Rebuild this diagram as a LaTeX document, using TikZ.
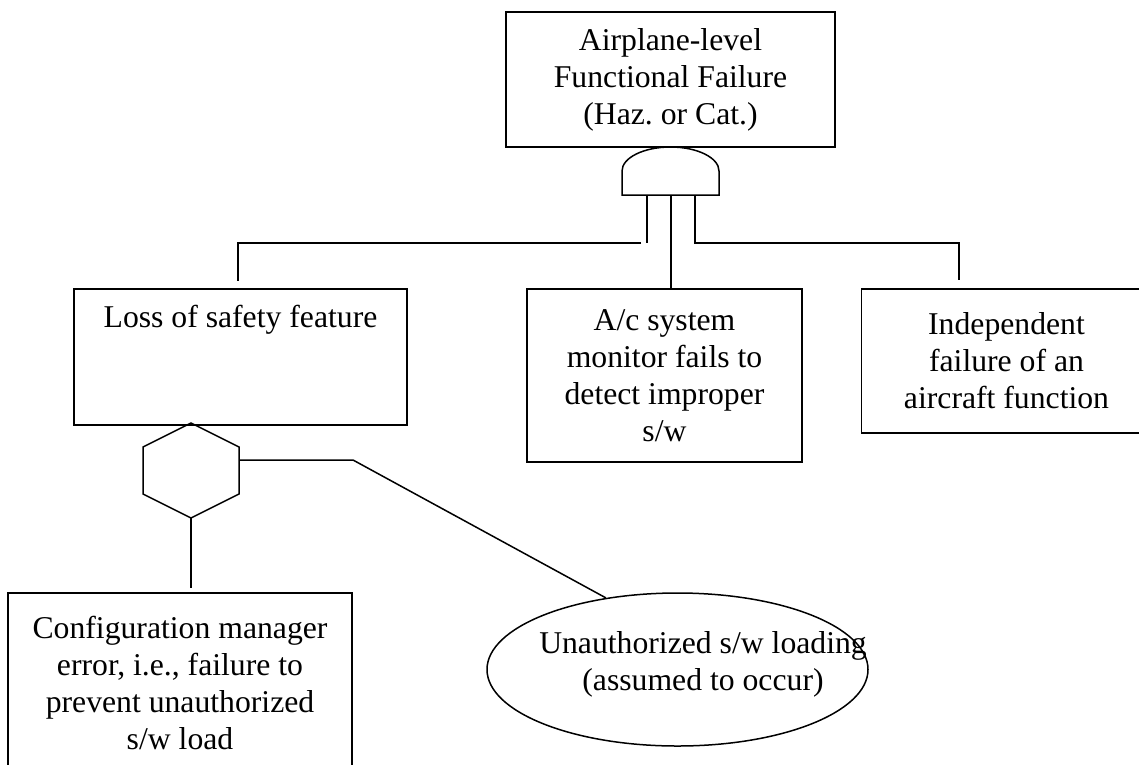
\documentclass[tikz,border=0pt]{standalone}
\usepackage{fontspec}
\setmainfont{Liberation Serif}
\usetikzlibrary{shapes.geometric,
                calc, %for relative coord calculations
                positioning}

\begin{document}
\begin{tikzpicture}[x=1pt, y=-1pt,
                    txt/.style={font=\fontsize{31.7}{37}\selectfont, align=center},
                    event/.style={draw, line width=1.5pt, inner sep=0pt, txt},
                    basic/.style={draw, ellipse, line width=1.5pt, inner sep=0pt},
                    wire/.style={line width=1.5pt}
                    ]
    \useasboundingbox[fill=white] (0,0) rectangle (1139,764);

    % EVENTS %
    \node[event, minimum width=329pt, minimum height=135pt] (top) at (670.5,79.5)
        {Airplane-level\\Functional Failure\\(Haz.\ or Cat.)};
    \node[event, minimum width=333pt, minimum height=136pt,
          label={[txt, anchor=base, yshift=-39pt, inner sep=0pt]north:Loss of safety feature}] (loss) at (240.5,357) {};
    \node[event, minimum width=275pt, minimum height=173pt] (mon) at (664.5,375.5)
        {A/c system\\monitor fails to\\detect improper\\s/w};
    \node[event, minimum width=290pt, minimum height=144pt] (indep) at (1006.5,361)
        {Independent\\failure of an\\aircraft function};
    \node[event, minimum width=344pt, minimum height=180pt] (cfg) at (180,683)
        {Configuration manager\\error, i.e., failure to\\prevent unauthorized\\s/w load};
    \node[basic, minimum width=381pt, minimum height=153pt,
          label={[txt, xshift=25.5pt, yshift=5.5pt]center:Unauthorized s/w loading\\(assumed to occur)}] (load) at (677.5,669.5) {};

    % AND GATE %
    \draw[wire] (622,195) -- (622,171) arc[start angle=180, end angle=360, x radius=48.5, y radius=24] -- (719,195) -- cycle;
    \coordinate (gL) at (647,195);
    \coordinate (gM) at (671,195);
    \coordinate (gR) at (695,195);

    % INHIBIT GATE %
    \coordinate (hT) at (191,423);
    \coordinate (hB) at (191,518);
    \draw[wire] (hT) -- (239,447) -- (239,494) -- (hB) -- (143,494) -- (143,447) -- cycle;
    \coordinate (hR) at (239,460);

    % CONNECTORS %
    \coordinate (jL) at (647,243);
    \coordinate (kL) at (641,243);
    \coordinate (eL) at (238,281);
    \coordinate (kR) at (959,243);
    \coordinate (eR) at (959,280);
    \coordinate (bend) at (353,460);
    \coordinate (eB) at (191,588);

    \draw[wire] (gL) -- (jL);
    \draw[wire] (kL) -| (eL);
    \draw[wire] (gM) -- (mon.north -| gM);
    \draw[wire] (gR) |- (kR) -- (eR);
    \draw[wire] (hB) -- (eB);
    \draw[wire] (hR) -- (bend) -- (load.135);

\end{tikzpicture}
\end{document}
